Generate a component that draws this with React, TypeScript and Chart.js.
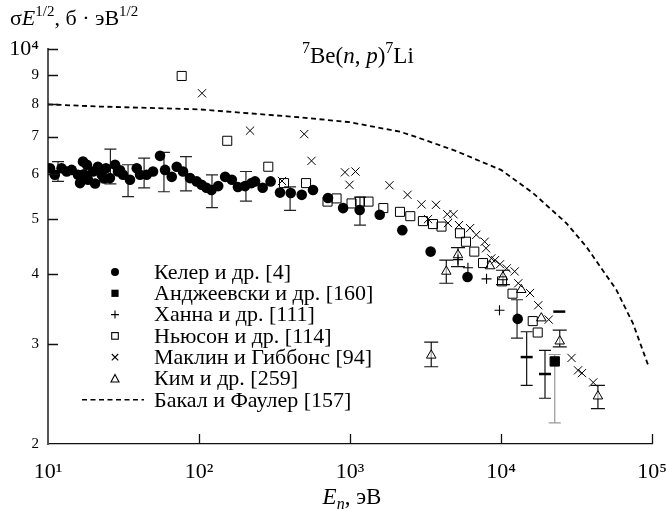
import React, { useEffect, useRef } from 'react';
import { Chart, registerables } from 'chart.js';

Chart.register(...registerables);

const FONT = "'Liberation Serif', 'Times New Roman', serif";

// Axis ticks
const xTickValues = [10, 100, 1000, 10000, 100000];
const xTickLabels = ['10¹', '10²', '10³', '10⁴', '10⁵'];
const yTickValues = [2, 3, 4, 5, 6, 7, 8, 9, 10];
const yTickLabels = ['2', '3', '4', '5', '6', '7', '8', '9', '10⁴'];

// Келер и др. [4]
const kelerE = [10.3, 11.1, 12.3, 13.3, 14.35, 15.8, 16.3, 17.05, 18.1, 18.4, 19.9, 21.4, 22.7, 24.2, 25.7, 27.8, 29.1, 31.4, 34.9, 38.7, 40.7, 45.0, 49.6, 55.2, 59.6, 66.0, 71.2, 78.4, 87.2, 96.6, 104, 112, 121, 134, 149, 165, 181, 202, 223, 235, 264, 298, 344, 405, 479, 569, 715, 900, 1159, 1573, 2220, 3420, 6000, 12900, 17.3, 20.5, 23.5, 30.0];
const kelerV = [6.15, 5.99, 6.15, 6.07, 6.11, 5.99, 5.79, 6.32, 6.24, 5.87, 6.07, 6.19, 5.99, 6.15, 5.91, 6.24, 6.07, 5.99, 5.87, 6.15, 5.99, 5.99, 6.07, 6.47, 6.11, 5.94, 6.19, 6.07, 5.91, 5.83, 5.75, 5.68, 5.63, 5.72, 5.94, 5.87, 5.70, 5.72, 5.79, 5.83, 5.68, 5.83, 5.57, 5.56, 5.52, 5.63, 5.45, 5.23, 5.19, 5.09, 4.78, 4.38, 3.95, 3.33, 6.00, 5.78, 5.90, 6.10];
const kelerErrE = [11.65, 25.9, 33.9, 43.3, 58.6, 82.0, 121.9, 204.6, 401, 1164, 12770];
const kelerErrLo = [5.83, 5.77, 5.48, 5.68, 5.59, 5.61, 5.24, 5.38, 5.18, 4.88, 3.08];
const kelerErrHi = [6.32, 6.65, 6.24, 6.41, 6.56, 6.45, 5.99, 6.07, 5.70, 5.47, 3.60];

// Анджеевски и др. [160]
const andzE = [22700];
const andzV = [2.80];
const andzErrLo = [2.18];
const andzErrHi = [2.88];

// Ханна и др. [111]
const hannaE = [5190, 6040, 8020, 9770];
const hannaV = [4.24, 4.10, 3.92, 3.45];

// Ньюсон и др. [114]
const newsonE = [76.8, 153.8, 287.6, 365.6, 511.6, 709.8, 814.5, 1024, 1164, 1326, 1662, 2143, 2508, 3041, 3545, 4037, 5348, 5862, 6653, 7603, 10160, 11920, 16220, 17500];
const newsonV = [8.96, 6.88, 6.19, 5.79, 5.79, 5.37, 5.44, 5.33, 5.37, 5.37, 5.23, 5.15, 5.06, 4.96, 4.90, 4.85, 4.72, 4.56, 4.38, 4.18, 3.88, 3.69, 3.30, 3.15];

// Маклин и Гиббонс [94]
const maclinE = [104.7, 217.8, 497.5, 556, 354.6, 926, 1087, 992, 1826, 2404, 2975, 3711, 3286, 4410, 4846, 4457, 5272, 6237, 6861, 7800, 7959, 8627, 9122, 9849, 10910, 12320, 13020, 15560, 17660, 20700, 29310, 32360, 34390, 40800];
const maclinV = [8.35, 7.17, 7.07, 6.34, 5.84, 6.05, 6.07, 5.75, 5.74, 5.52, 5.31, 5.30, 5.00, 5.10, 5.10, 4.92, 4.88, 4.82, 4.69, 4.56, 4.44, 4.26, 4.23, 4.16, 4.09, 4.04, 3.85, 3.70, 3.52, 3.32, 2.84, 2.70, 2.67, 2.57];

// Ким и др. [259]
const kimE = [3451, 4342, 5190, 8453, 10300, 13620, 18490, 24490, 43850];
const kimV = [2.87, 4.04, 4.32, 4.13, 3.95, 3.75, 3.34, 3.04, 2.43];
const kimErrE = [3451, 4342, 5190, 10300, 24490, 43850];
const kimErrLo = [2.74, 3.85, 4.12, 3.83, 2.97, 2.31];
const kimErrHi = [3.03, 4.23, 4.45, 4.06, 3.18, 2.54];

// unlabelled dash-marked points with bars
const dashE = [14790, 19560, 24320];
const dashV = [2.85, 2.66, 3.43];
const dashErrE = [14790, 19560];
const dashErrLo = [2.54, 2.41];
const dashErrHi = [3.16, 2.93];

// Бакал и Фаулер [157]
const bakalE = [10, 22, 100, 467, 1000, 2143, 2735, 4955, 10000, 16300, 27070, 36700, 58000, 74800, 94200];
const bakalV = [7.98, 7.91, 7.82, 7.57, 7.42, 7.14, 6.99, 6.61, 6.11, 5.56, 4.92, 4.47, 3.75, 3.27, 2.76];

const legendLabels = [
  'Келер и др. [4]',
  'Анджеевски и др. [160]',
  'Ханна и др. [111]',
  'Ньюсон и др. [114]',
  'Маклин и Гиббонс [94]',
  'Ким и др. [259]',
  'Бакал и Фаулер [157]',
];
const legendStyles = ['circle', 'filledRect', 'cross', 'rect', 'crossRot', 'triangle', 'dash'];

const pts = (xs: number[], ys: number[]) => xs.map((x, i) => ({ x, y: ys[i] }));

const errGroups = [
  { E: kelerErrE, lo: kelerErrLo, hi: kelerErrHi, color: '#222', cap: 6 },
  { E: andzE, lo: andzErrLo, hi: andzErrHi, color: '#999', cap: 6 },
  { E: kimErrE, lo: kimErrLo, hi: kimErrHi, color: '#111', cap: 7 },
  { E: dashErrE, lo: dashErrLo, hi: dashErrHi, color: '#111', cap: 6 },
];

type Seg = { t: string; i?: boolean; sup?: boolean; sub?: boolean };

function drawRich(ctx: CanvasRenderingContext2D, segs: Seg[], x: number, y: number, size: number, align: 'left' | 'center' = 'left') {
  const fontFor = (s: Seg) => `${s.i ? 'italic ' : ''}${s.sup || s.sub ? Math.round(size * 0.7) : size}px ${FONT}`;
  let total = 0;
  for (const s of segs) {
    ctx.font = fontFor(s);
    total += ctx.measureText(s.t).width;
  }
  let cx = align === 'center' ? x - total / 2 : x;
  ctx.textAlign = 'left';
  ctx.textBaseline = 'alphabetic';
  ctx.fillStyle = '#000';
  for (const s of segs) {
    ctx.font = fontFor(s);
    const dy = s.sup ? -size * 0.42 : s.sub ? size * 0.22 : 0;
    ctx.fillText(s.t, cx, y + dy);
    cx += ctx.measureText(s.t).width;
  }
}

function drawMarker(ctx: CanvasRenderingContext2D, style: string, x: number, y: number) {
  ctx.save();
  ctx.strokeStyle = '#000';
  ctx.fillStyle = '#000';
  ctx.lineWidth = 1.1;
  ctx.beginPath();
  if (style === 'circle') {
    ctx.arc(x, y, 4, 0, Math.PI * 2);
    ctx.fill();
  } else if (style === 'filledRect') {
    ctx.fillRect(x - 3.6, y - 3.6, 7.2, 7.2);
  } else if (style === 'rect') {
    ctx.strokeRect(x - 3.3, y - 3.3, 6.6, 6.6);
  } else if (style === 'cross') {
    ctx.moveTo(x - 4, y); ctx.lineTo(x + 4, y);
    ctx.moveTo(x, y - 4); ctx.lineTo(x, y + 4);
    ctx.stroke();
  } else if (style === 'crossRot') {
    ctx.moveTo(x - 3.2, y - 3.2); ctx.lineTo(x + 3.2, y + 3.2);
    ctx.moveTo(x - 3.2, y + 3.2); ctx.lineTo(x + 3.2, y - 3.2);
    ctx.stroke();
  } else if (style === 'triangle') {
    ctx.moveTo(x, y - 4); ctx.lineTo(x + 4, y + 3.5); ctx.lineTo(x - 4, y + 3.5); ctx.closePath();
    ctx.stroke();
  } else if (style === 'dash') {
    ctx.setLineDash([5, 3.5]);
    ctx.lineWidth = 1.6;
    ctx.moveTo(x - 33, y); ctx.lineTo(x + 29, y);
    ctx.stroke();
  }
  ctx.restore();
}

const decorPlugin = {
  id: 'decor',
  beforeDatasetsDraw(chart: any) {
    const { ctx, scales } = chart;
    const xs = scales.x, ys = scales.y;
    ctx.save();
    ctx.lineWidth = 1.2;
    for (const g of errGroups) {
      ctx.strokeStyle = g.color;
      g.E.forEach((e: number, i: number) => {
        const px = xs.getPixelForValue(e);
        const yl = ys.getPixelForValue(g.lo[i]);
        const yh = ys.getPixelForValue(g.hi[i]);
        ctx.beginPath();
        ctx.moveTo(px, yl); ctx.lineTo(px, yh);
        ctx.moveTo(px - g.cap, yl); ctx.lineTo(px + g.cap, yl);
        ctx.moveTo(px - g.cap, yh); ctx.lineTo(px + g.cap, yh);
        ctx.stroke();
      });
    }
    ctx.restore();
  },
  afterDraw(chart: any) {
    const { ctx, scales, chartArea } = chart;
    const xs = scales.x, ys = scales.y;
    ctx.save();
    // inward tick marks
    ctx.strokeStyle = '#111';
    ctx.lineWidth = 1.3;
    ctx.beginPath();
    xs.ticks.forEach((t: any) => {
      if (t.value === xTickValues[0]) return;
      const px = Math.round(xs.getPixelForValue(t.value)) + 0.5;
      ctx.moveTo(px, chartArea.bottom); ctx.lineTo(px, chartArea.bottom - 10);
    });
    ys.ticks.forEach((t: any) => {
      if (t.value === yTickValues[0]) return;
      const py = Math.round(ys.getPixelForValue(t.value)) + 0.5;
      ctx.moveTo(chartArea.left, py); ctx.lineTo(chartArea.left + 10, py);
    });
    ctx.stroke();

    // titles
    drawRich(ctx, [{ t: 'σ' }, { t: 'E', i: true }, { t: '1/2', sup: true }, { t: ', б · эВ' }, { t: '1/2', sup: true }], 10, 25, 22);
    drawRich(ctx, [{ t: '7', sup: true }, { t: 'Be(' }, { t: 'n', i: true }, { t: ', ' }, { t: 'p', i: true }, { t: ')' }, { t: '7', sup: true }, { t: 'Li' }], 302, 63, 23);
    drawRich(ctx, [{ t: 'E', i: true }, { t: 'n', i: true, sub: true }, { t: ', эВ' }], 352, 504, 23, 'center');

    // legend
    legendLabels.forEach((lab, i) => {
      const y = 272 + i * 21.3;
      drawMarker(ctx, legendStyles[i], 115, y);
      ctx.font = `22px ${FONT}`;
      ctx.fillStyle = '#000';
      ctx.textAlign = 'left';
      ctx.textBaseline = 'middle';
      ctx.fillText(lab, 154, y + 1);
    });
    ctx.restore();
  },
};

export default function App() {
  const ref = useRef<HTMLCanvasElement>(null);
  useEffect(() => {
    const chart = new Chart(ref.current as HTMLCanvasElement, {
      type: 'scatter',
      data: {
        datasets: [
          { label: legendLabels[6], data: pts(bakalE, bakalV), showLine: true, borderColor: '#000', borderWidth: 1.8, borderDash: [5, 3.5], pointRadius: 0, fill: false, tension: 0 },
          { label: legendLabels[3], data: pts(newsonE, newsonV), pointStyle: 'rect', pointRadius: 6.4, borderColor: '#000', borderWidth: 1, backgroundColor: 'rgba(0,0,0,0)' },
          { label: legendLabels[4], data: pts(maclinE, maclinV), pointStyle: 'crossRot', pointRadius: 5.8, borderColor: '#000', borderWidth: 1, backgroundColor: '#000' },
          { label: legendLabels[2], data: pts(hannaE, hannaV), pointStyle: 'cross', pointRadius: 5, borderColor: '#000', borderWidth: 1.1, backgroundColor: '#000' },
          { label: legendLabels[5], data: pts(kimE, kimV), pointStyle: 'triangle', pointRadius: 5.5, borderColor: '#000', borderWidth: 1, backgroundColor: 'rgba(255,255,255,0.6)' },
          { label: 'dash', data: pts(dashE, dashV), pointStyle: 'line', pointRadius: 6, borderColor: '#000', borderWidth: 2.5 },
          { label: legendLabels[1], data: pts(andzE, andzV), pointStyle: 'rect', pointRadius: 6.6, borderColor: '#000', borderWidth: 1, backgroundColor: '#000' },
          { label: legendLabels[0], data: pts(kelerE, kelerV), pointStyle: 'circle', pointRadius: 5.3, borderColor: '#000', borderWidth: 0, backgroundColor: '#000' },
        ],
      },
      options: {
        animation: false,
        responsive: false,
        maintainAspectRatio: false,
        events: [],
        layout: { padding: { top: 49, right: 14, left: 0, bottom: 0 } },
        plugins: { legend: { display: false }, tooltip: { enabled: false }, title: { display: false } },
        scales: {
          x: {
            type: 'logarithmic',
            min: 10,
            max: 100000,
            afterBuildTicks: (s: any) => { s.ticks = xTickValues.map((v) => ({ value: v })); },
            afterFit: (s: any) => { s.height = 66; s.paddingLeft = 0; s.paddingRight = 0; },
            ticks: {
              autoSkip: false,
              maxRotation: 0,
              padding: 15,
              color: '#000',
              font: { family: FONT, size: 22 },
              callback: (v: any) => xTickLabels[xTickValues.indexOf(Number(v))] ?? '',
            },
            grid: { display: false, drawTicks: false },
            border: { display: true, color: '#111', width: 1.3 },
          },
          y: {
            type: 'logarithmic',
            min: 2,
            max: 10,
            afterBuildTicks: (s: any) => { s.ticks = yTickValues.map((v) => ({ value: v })); },
            afterFit: (s: any) => { s.width = 48; s.paddingTop = 0; s.paddingBottom = 0; },
            ticks: {
              autoSkip: false,
              padding: 9,
              color: '#000',
              font: (c: any) => ({ family: FONT, size: c.tick && c.tick.value === 10 ? 22 : 15 }),
              callback: (v: any) => yTickLabels[yTickValues.indexOf(Number(v))] ?? '',
            },
            grid: { display: false, drawTicks: false },
            border: { display: true, color: '#555', width: 2 },
          },
        },
      },
      plugins: [decorPlugin],
    } as any);
    return () => chart.destroy();
  }, []);
  return (
    <div style={{ position: 'fixed', left: 0, top: 0, width: 666, height: 510, background: '#fff' }}>
      <canvas ref={ref} width={666} height={510} style={{ display: 'block', width: 666, height: 510 }} />
    </div>
  );
}
